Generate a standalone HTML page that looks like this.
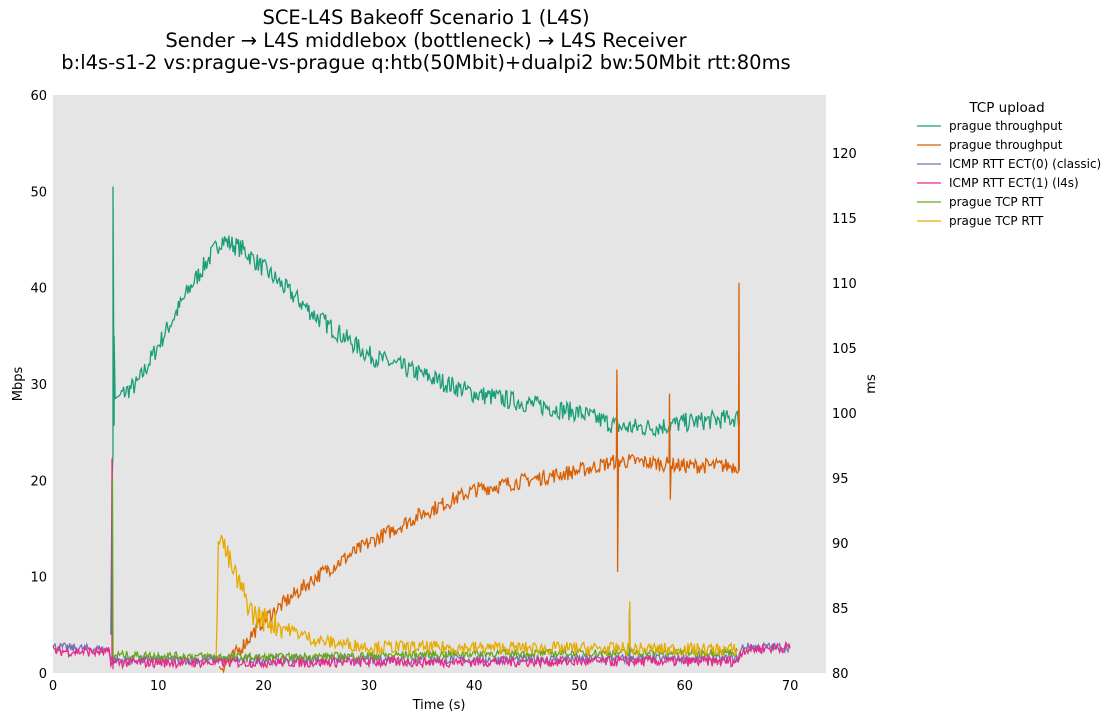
<!DOCTYPE html>
<html><head><meta charset="utf-8"><style>
body{margin:0;background:#fff;width:1111px;height:721px;overflow:hidden;font-family:"Liberation Sans","DejaVu Sans",sans-serif}
text{font-family:"DejaVu Sans","Liberation Sans",sans-serif}
</style></head><body>
<svg id="s" width="1111" height="721" xmlns="http://www.w3.org/2000/svg">
<rect x="53" y="95" width="773" height="578" fill="#e5e5e5"/>
<g font-size="19.5" text-anchor="middle" fill="#000">
<text x="426" y="24">SCE-L4S Bakeoff Scenario 1 (L4S)</text>
<text x="426" y="47">Sender → L4S middlebox (bottleneck) → L4S Receiver</text>
<text x="426" y="69">b:l4s-s1-2 vs:prague-vs-prague q:htb(50Mbit)+dualpi2 bw:50Mbit rtt:80ms</text>
</g>
<g id="ax" font-size="13" fill="#000"></g>
<text x="22" y="384" font-size="13" text-anchor="middle" transform="rotate(-90 22 384)">Mbps</text>
<text x="875" y="384" font-size="13" text-anchor="middle" transform="rotate(-90 875 384)">ms</text>
<text x="439" y="709" font-size="13" text-anchor="middle">Time (s)</text>
<g id="ser" fill="none" stroke-width="1.3"></g>
<g font-size="12" fill="#000">
<text x="1007" y="112" font-size="13.5" text-anchor="middle">TCP upload</text>
<line x1="917" x2="941" y1="126" y2="126" stroke="#1b9e77" stroke-width="1.3"/><text x="949" y="130">prague throughput</text>
<line x1="917" x2="941" y1="145" y2="145" stroke="#d95f02" stroke-width="1.3"/><text x="949" y="149">prague throughput</text>
<line x1="917" x2="941" y1="164" y2="164" stroke="#7570b3" stroke-width="1.3"/><text x="949" y="168">ICMP RTT ECT(0) (classic)</text>
<line x1="917" x2="941" y1="183" y2="183" stroke="#e7298a" stroke-width="1.3"/><text x="949" y="187">ICMP RTT ECT(1) (l4s)</text>
<line x1="917" x2="941" y1="202" y2="202" stroke="#66a61e" stroke-width="1.3"/><text x="949" y="206">prague TCP RTT</text>
<line x1="917" x2="941" y1="221" y2="221" stroke="#e6ab02" stroke-width="1.3"/><text x="949" y="225">prague TCP RTT</text>
</g>
</svg>
<script>
const NS="http://www.w3.org/2000/svg";
const X=t=>53+t*10.53, YL=v=>673-v*9.633, YR=m=>673-(m-80)*13.0;
const ax=document.getElementById('ax');
function tx(x,y,s,a){const e=document.createElementNS(NS,'text');e.setAttribute('x',x);e.setAttribute('y',y);e.setAttribute('text-anchor',a);e.textContent=s;ax.appendChild(e);}
for(let t=0;t<=70;t+=10)tx(X(t),690,t,'middle');
for(let v=0;v<=60;v+=10)tx(47,YL(v)+5,v,'end');
for(let m=80;m<=120;m+=5)tx(832,YR(m)+5,m,'start');
let seed=7;const r=()=>{seed=(seed*16807)%2147483647;return seed/2147483647-0.5;};
function interp(k,t){for(let i=0;i<k.length-1;i++){if(t>=k[i][0]&&t<=k[i+1][0]){const f=(t-k[i][0])/(k[i+1][0]-k[i][0]||1);return k[i][1]+f*(k[i+1][1]-k[i][1]);}}return k[k.length-1][1];}
const ser=document.getElementById('ser');
function line(col,keys,t0,t1,noise,Y,spikes){let pts=[];for(let t=t0;t<=t1+1e-9;t+=0.1){let v=interp(keys,t)+r()*noise(t);pts.push([t,v]);}
(spikes||[]).forEach(s=>{pts.push(s)});pts.sort((a,b)=>a[0]-b[0]);
const p=document.createElementNS(NS,'polyline');p.setAttribute('points',pts.map(q=>X(q[0]).toFixed(1)+','+Y(q[1]).toFixed(1)).join(' '));p.setAttribute('stroke',col);ser.appendChild(p);}
line('#1b9e77',[[5.5,4],[5.6,20],[5.9,28.5],[8,30],[10,34],[13,40],[16,45],[18,44],[20,42],[25,37],[30,33],[35,31],[40,29],[45,28],[50,27],[54,25.5],[57,25.5],[60,26],[65.2,26.5]],5.5,65.2,t=>t<6.3?0:2,YL,[[5.7,50.5],[5.8,35]]);
line('#d95f02',[[15.8,0.5],[17,1.5],[20,5.5],[25,10],[30,13.5],[35,16.5],[40,19],[45,20],[50,21],[53.5,22],[55,22],[60,21.5],[65.1,21.5]],15.8,65.1,t=>1.6,YL,[[53.55,31.5],[53.62,10.5],[58.55,29],[58.62,18],[65.15,40.5],[65.18,21]]);
line('#7570b3',[[0,82],[5.3,81.8],[5.6,81],[6,81],[65,81.1],[65.5,82],[70,82]],0,70,t=>0.7,YR,[[54.75,84.9]]);
line('#e7298a',[[0,81.7],[5.3,81.6],[5.5,80.6],[6,80.8],[65,80.9],[65.5,81.8],[70,82]],0,70,t=>0.8,YR,[[5.6,96.5],[5.7,81]]);
line('#66a61e',[[5.7,81.2],[6,81.4],[20,81.2],[40,81.5],[65,81.6]],5.7,65,t=>0.6,YR,[[5.65,95],[54.8,84]]);
line('#e6ab02',[[15.5,80.5],[15.7,91],[17,88],[19,84.5],[25,82.5],[30,82],[65,81.8]],15.5,65,t=>t<22?2:1.0,YR,[[54.78,85.5]]);
</script>
</body></html>
